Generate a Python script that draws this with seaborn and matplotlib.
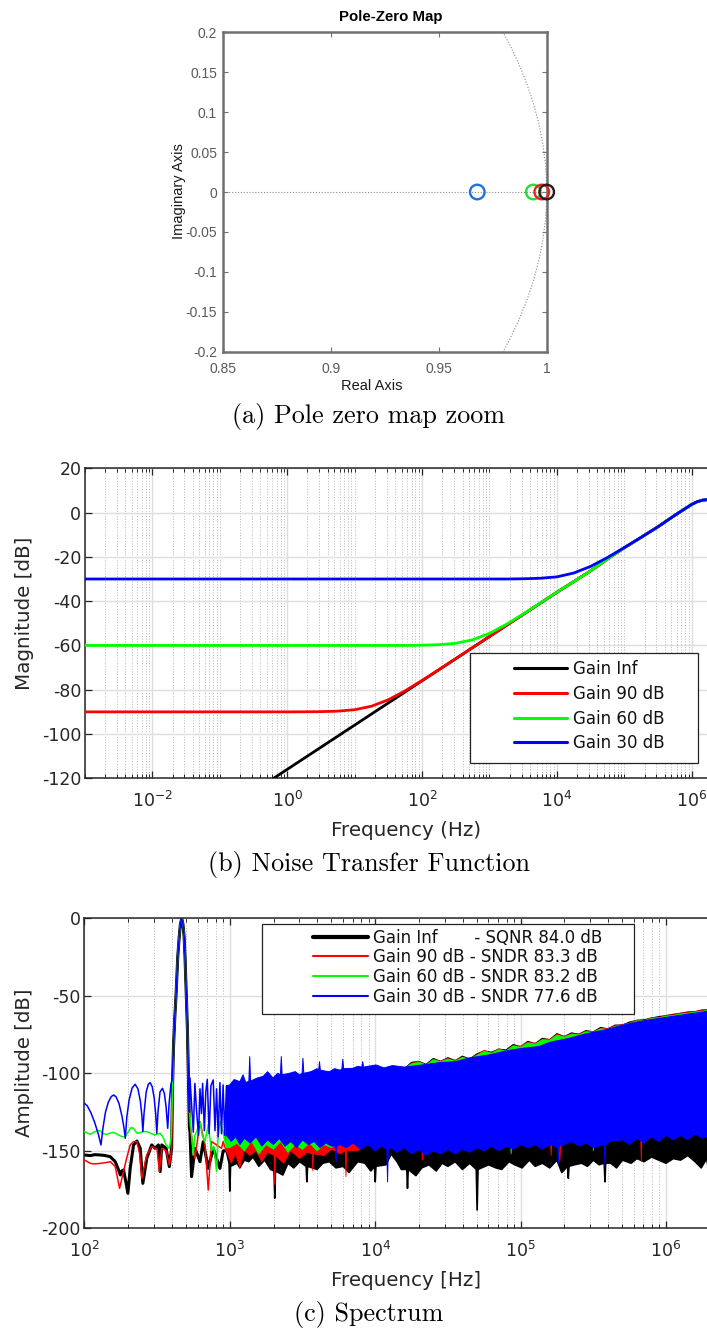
import numpy as np
import pandas as pd
import matplotlib
matplotlib.use("Agg")
import matplotlib.pyplot as plt
import seaborn as sns
from matplotlib.lines import Line2D
from matplotlib.patches import Rectangle, Circle
from matplotlib.ticker import FixedLocator, FixedFormatter, NullFormatter

# ------------------------------------------------------------------ data
# (a) zeros of the noise transfer function close to z = 1
PZ_NAMES = ["Gain 30 dB", "Gain 60 dB", "Gain 90 dB", "Gain Inf"]
PZ_REAL = [0.9678, 0.9938, 0.9977, 1.0]
PZ_IMAG = [0.0, 0.0, 0.0, 0.0]
PZ_COLORS = ["#1f6fe5", "#22dd33", "#e8231e", "#2a1a1a"]
PZ_XTICKS = [0.85, 0.9, 0.95, 1.0]
PZ_XTICKLABELS = ["0.85", "0.9", "0.95", "1"]
PZ_YTICKS = [-0.2, -0.15, -0.1, -0.05, 0.0, 0.05, 0.1, 0.15, 0.2]
PZ_YTICKLABELS = ["-0.2", "-0.15", "-0.1", "-0.05", "0", "0.05", "0.1", "0.15", "0.2"]

# (b) NTF magnitude (log10 of frequency in Hz, magnitude in dB)
NTF_LABELS = ["Gain Inf", "Gain 90 dB", "Gain 60 dB", "Gain 30 dB"]
NTF_COLORS = ["#000000", "#ff0000", "#00ff00", "#0000ff"]
NTF_LOGF = [-3, -2, -1, -0.5, -0.21, 0, 0.25, 0.5, 0.75, 1, 1.25, 1.5, 1.75,
            2, 2.25, 2.5, 2.75, 3, 3.25, 3.5, 3.75, 4, 4.25, 4.5, 4.75,
            5, 5.25, 5.5, 5.75, 6, 6.08, 6.16, 6.24, 6.33]
NTF_INF = [-176, -156, -136, -126, -120.2, -116, -111, -106, -101, -96, -91, -86, -81,
           -76, -71, -66, -61, -56, -51, -46, -41, -36, -31.2, -26.3, -21.0,
           -15.9, -11.2, -6.4, -1.2, 3.7, 4.9, 5.6, 5.9, 6.0]
NTF_90 = [-90, -90, -90, -90, -90, -90, -89.97, -89.9, -89.67, -89.03, -87.46, -84.55, -80.49,
          -75.83, -70.95, -65.98, -61, -56, -51, -46, -41, -36, -31.2, -26.3, -21.0,
          -15.9, -11.2, -6.4, -1.2, 3.7, 4.9, 5.6, 5.9, 6.0]
NTF_60 = [-60, -60, -60, -60, -60, -60, -60, -60, -60, -60, -60, -60, -60,
          -59.89, -59.67, -59.03, -57.46, -54.55, -50.49, -45.83, -40.95, -35.98, -31.2, -26.3, -21.0,
          -15.9, -11.2, -6.4, -1.2, 3.7, 4.9, 5.6, 5.9, 6.0]
NTF_30 = [-30, -30, -30, -30, -30, -30, -30, -30, -30, -30, -30, -30, -30,
          -30, -30, -30, -30, -30, -30, -29.89, -29.67, -29.03, -27.3, -24.3, -20.3,
          -15.8, -11.15, -6.4, -1.2, 3.7, 4.9, 5.6, 5.9, 6.0]
NTF_YTICKS = [-120, -100, -80, -60, -40, -20, 0, 20]
NTF_XDECADES = [-2, 0, 2, 4, 6]

# (c) output spectrum: (log10 f, dB) points
SPEC_LABELS = ["Gain Inf", "Gain 90 dB", "Gain 60 dB", "Gain 30 dB"]
SPEC_METRIC = ["SQNR", "SNDR", "SNDR", "SNDR"]
SPEC_VALUES = [84.0, 83.3, 83.2, 77.6]
SPEC_COLORS = ["#000000", "#ff0000", "#00ff00", "#0000ff"]
SPEC_YTICKS = [-200, -150, -100, -50, 0]
SPEC_XDECADES = [2, 3, 4, 5, 6]

# signal tone main lobe (shared by all four runs)
TONE = [(2.612, -85), (2.621, -65), (2.630, -50), (2.642, -25), (2.652, -12), (2.660, -4),
        (2.669, 0), (2.678, -4), (2.686, -12), (2.692, -25), (2.701, -50), (2.708, -70),
        (2.715, -100)]

BLACK_PRE = [(2.000, -152.7), (2.041, -153.1), (2.070, -152.5), (2.110, -152.7), (2.140, -153.0),
             (2.178, -153.8), (2.212, -157.0), (2.242, -164.0), (2.247, -165.6), (2.258, -163.0),
             (2.269, -162.4), (2.285, -170.0), (2.299, -177.4), (2.315, -161.3), (2.338, -146.2),
             (2.361, -143.7), (2.384, -148.4), (2.402, -171.0), (2.429, -154.8), (2.463, -146.2),
             (2.486, -148.4), (2.509, -146.2), (2.521, -163.4), (2.532, -146.2), (2.562, -148.4),
             (2.584, -160.2), (2.600, -148.4), (2.606, -110)]
BLACK_POST = [(2.722, -135), (2.726, -137.6), (2.737, -166.7), (2.760, -148.4), (2.795, -157.0),
              (2.817, -144.1), (2.852, -161.3), (2.886, -148.4), (2.932, -161.3), (2.955, -150),
              (2.975, -150)]
RED_PRE = [(2.000, -155.9), (2.041, -158.1), (2.070, -158.5), (2.110, -158.1), (2.155, -157.5),
           (2.178, -157.0), (2.212, -160.2), (2.242, -174.2), (2.269, -163.4), (2.290, -155.0),
           (2.315, -146.2), (2.338, -144.1), (2.361, -144.1), (2.380, -152.0), (2.395, -167.7),
           (2.429, -152.7), (2.463, -147.3), (2.500, -149.0), (2.516, -163.4), (2.532, -148.4),
           (2.562, -150.0), (2.584, -159.1), (2.600, -149.0), (2.606, -110)]
RED_POST = [(2.722, -125), (2.726, -133.3), (2.760, -155.0), (2.795, -131.2), (2.829, -146.2),
            (2.852, -175.3), (2.874, -144.1), (2.909, -146.2), (2.943, -148.4), (2.954, -144.1),
            (2.975, -150)]
GREEN_PRE = [(2.000, -137.6), (2.020, -138.5), (2.041, -139.4), (2.064, -138.0), (2.090, -137.0),
             (2.110, -137.2), (2.130, -139.0), (2.155, -139.4), (2.178, -138.5), (2.201, -138.1),
             (2.230, -139.5), (2.258, -140.9), (2.281, -140.9), (2.300, -138.0), (2.320, -135.0),
             (2.338, -135.5), (2.361, -138.5), (2.372, -138.7), (2.400, -137.6), (2.429, -137.6),
             (2.450, -138.5), (2.486, -139.8), (2.509, -139.0), (2.521, -138.7), (2.540, -141.0),
             (2.562, -146.2), (2.584, -148.4), (2.597, -141.0), (2.606, -110)]
GREEN_POST = [(2.722, -125), (2.726, -126.9), (2.737, -140.0), (2.749, -152.7), (2.760, -140.0),
              (2.772, -137.6), (2.795, -131.2), (2.810, -140.0), (2.829, -144.1), (2.852, -133.3),
              (2.874, -150.0), (2.890, -147.0), (2.909, -163.4), (2.920, -140.0), (2.932, -131.2),
              (2.954, -137.6), (2.975, -148.0)]
BLUE_PRE = [(2.000, -119.4), (2.020, -121.0), (2.045, -125.5), (2.070, -131.5), (2.095, -139.0),
            (2.114, -146.2), (2.128, -135.0), (2.145, -125.0), (2.165, -118.5), (2.185, -115.0),
            (2.201, -114.0), (2.218, -115.2), (2.238, -119.5), (2.258, -127.5), (2.272, -135.0),
            (2.281, -141.9), (2.292, -128.0), (2.308, -117.0), (2.328, -109.5), (2.349, -107.1),
            (2.368, -110.0), (2.385, -118.0), (2.396, -128.0), (2.402, -137.6), (2.410, -126.0),
            (2.425, -112.0), (2.440, -107.0), (2.452, -106.0), (2.466, -108.5), (2.480, -116.0),
            (2.491, -127.0), (2.498, -138.7), (2.506, -125.0), (2.520, -112.0), (2.537, -109.7),
            (2.550, -113.0), (2.562, -122.0), (2.573, -135.5), (2.582, -120.0), (2.595, -107.0),
            (2.603, -104.3)]
BLUE_POST = [(2.722, -125), (2.726, -103), (2.737, -120), (2.749, -138), (2.760, -106.5),
             (2.772, -125), (2.785, -140), (2.795, -110), (2.805, -126), (2.813, -106.5),
             (2.825, -137), (2.835, -112), (2.845, -104), (2.858, -139), (2.870, -108),
             (2.886, -104.3), (2.898, -137), (2.909, -110), (2.920, -141), (2.932, -106),
             (2.943, -139), (2.954, -107.5), (2.965, -140), (2.977, -108)]

# dense noise region: upper and lower envelopes of each run
BLACK_HI = [(2.975, -128), (3.1, -125), (3.3, -121), (3.5, -117), (3.7, -112), (3.9, -105),
            (4.0, -101), (4.1, -97.9), (4.15, -96.5), (4.2, -97.4), (4.25, -93.1), (4.3, -92.5),
            (4.35, -94.4), (4.4, -90.6), (4.45, -92.5), (4.5, -90.1), (4.55, -92.0), (4.6, -89.1),
            (4.65, -91.0), (4.7, -87.6), (4.75, -85.7), (4.8, -86.6), (4.85, -84.6), (4.9, -85.1),
            (4.95, -81.6), (5.0, -83.0), (5.05, -79.6), (5.1, -81.0), (5.15, -77.6), (5.2, -78.5),
            (5.25, -74.6), (5.3, -76.5), (5.35, -74.1), (5.4, -75.0), (5.45, -72.6), (5.5, -73.4),
            (5.55, -70.6), (5.6, -71.5), (5.65, -69.1), (5.7, -69.0), (5.75, -67.1), (5.8, -66.0),
            (5.85, -65.6), (5.9, -64.5), (5.95, -63.6), (6.0, -63.0), (6.05, -62.1), (6.1, -61.5),
            (6.15, -60.6), (6.2, -60.4), (6.25, -59.3), (6.3, -59.2), (6.33, -58.6)]
BLACK_LO = [(2.975, -150), (2.995, -158), (3.000, -176), (3.005, -160), (3.050, -158), (3.069, -161),
            (3.100, -156), (3.130, -157), (3.160, -154), (3.200, -160), (3.240, -156), (3.280, -162),
            (3.304, -163), (3.309, -180.6), (3.314, -163), (3.365, -165.6), (3.400, -158),
            (3.440, -161), (3.480, -157), (3.525, -160), (3.530, -170), (3.535, -160), (3.600, -162),
            (3.640, -158), (3.685, -157), (3.730, -161), (3.780, -160), (3.820, -164), (3.845, -161),
            (3.880, -157), (3.930, -158), (3.970, -163), (3.995, -160), (4.000, -170), (4.005, -160),
            (4.074, -159), (4.110, -152), (4.150, -157), (4.180, -162), (4.217, -162), (4.222, -174.2),
            (4.227, -162), (4.280, -166), (4.320, -161), (4.370, -159), (4.420, -163), (4.460, -158),
            (4.500, -160), (4.550, -157), (4.600, -162), (4.650, -158), (4.695, -162), (4.701, -188.2),
            (4.707, -162), (4.780, -159), (4.830, -161), (4.870, -162), (4.920, -157), (4.960, -159),
            (5.010, -161), (5.060, -156), (5.100, -160), (5.150, -158), (5.200, -161), (5.250, -156),
            (5.283, -164), (5.323, -160), (5.328, -167.7), (5.333, -160), (5.370, -159), (5.420, -158),
            (5.460, -160), (5.500, -156), (5.540, -159), (5.575, -158), (5.580, -170), (5.585, -158),
            (5.620, -158), (5.660, -161), (5.700, -156), (5.760, -158), (5.800, -155), (5.850, -157),
            (5.900, -154), (5.950, -156), (6.000, -158), (6.050, -155), (6.100, -156), (6.150, -153),
            (6.200, -157), (6.242, -161), (6.280, -155), (6.300, -166.7), (6.330, -158)]
RED_HI = [(2.975, -126), (3.1, -124), (3.3, -120), (3.5, -116), (3.7, -111), (3.9, -104.5),
          (4.0, -101), (4.1, -97.5), (4.15, -96.9), (4.2, -97.0), (4.25, -93.6), (4.3, -92.2),
          (4.35, -94.7), (4.4, -90.9), (4.45, -92.1), (4.5, -90.5), (4.55, -91.6), (4.6, -89.5),
          (4.65, -90.6), (4.7, -88.0), (4.75, -85.2), (4.8, -87.0), (4.85, -84.3), (4.9, -85.5),
          (4.95, -82.0), (5.0, -82.6), (5.05, -80.0), (5.1, -80.7), (5.15, -78.0), (5.2, -78.1),
          (5.25, -75.0), (5.3, -76.1), (5.35, -74.5), (5.4, -74.6), (5.45, -72.9), (5.5, -73.1),
          (5.55, -71.0), (5.6, -71.1), (5.65, -69.4), (5.7, -68.6), (5.75, -67.5), (5.8, -65.6),
          (5.85, -65.9), (5.9, -64.1), (5.95, -64.0), (6.0, -62.6), (6.05, -62.4), (6.1, -61.1),
          (6.15, -60.9), (6.2, -60.1), (6.25, -59.6), (6.3, -58.9), (6.33, -58.9)]
RED_LO = [(2.975, -150), (3.010, -158), (3.040, -152), (3.069, -161), (3.100, -150), (3.140, -153),
          (3.180, -150), (3.220, -157), (3.260, -151), (3.304, -153), (3.309, -172), (3.314, -153),
          (3.370, -158), (3.420, -150), (3.480, -155), (3.530, -151), (3.566, -152), (3.571, -163),
          (3.576, -152), (3.650, -153), (3.700, -149), (3.760, -152), (3.794, -150), (3.799, -166.7),
          (3.804, -150), (3.880, -150), (3.940, -146), (4.000, -147), (4.050, -144), (4.120, -145),
          (4.200, -144), (4.300, -145), (4.320, -147), (4.325, -156), (4.330, -147), (4.400, -144),
          (4.500, -143), (4.600, -145), (4.700, -143), (4.800, -143), (4.900, -142), (5.000, -142),
          (5.100, -142), (5.205, -143), (5.210, -153), (5.215, -143), (5.265, -148), (5.270, -157),
          (5.275, -148), (5.300, -141), (5.400, -140), (5.500, -141), (5.600, -139), (5.700, -138),
          (5.825, -139), (5.830, -157), (5.835, -139), (5.900, -136), (6.000, -135), (6.100, -135),
          (6.200, -134), (6.300, -134), (6.330, -134)]
GREEN_HI = [(2.975, -122), (3.1, -120), (3.3, -116), (3.5, -112), (3.7, -107), (3.9, -102),
            (4.0, -99.5), (4.1, -98.2), (4.15, -96.9), (4.2, -97.6), (4.25, -93.8), (4.3, -92.9),
            (4.35, -94.6), (4.4, -91.3), (4.45, -92.6), (4.5, -90.8), (4.55, -92.3), (4.6, -89.7),
            (4.65, -91.2), (4.7, -88.3), (4.75, -85.8), (4.8, -87.1), (4.85, -84.8), (4.9, -85.6),
            (4.95, -82.3), (5.0, -83.2), (5.05, -80.3), (5.1, -81.2), (5.15, -78.3), (5.2, -78.7),
            (5.25, -75.3), (5.3, -76.7), (5.35, -74.8), (5.4, -75.2), (5.45, -73.2), (5.5, -73.6),
            (5.55, -71.3), (5.6, -71.7), (5.65, -69.7), (5.7, -69.1), (5.75, -67.8), (5.8, -66.2),
            (5.85, -66.1), (5.9, -64.7), (5.95, -64.2), (6.0, -63.2), (6.05, -62.7), (6.1, -61.8),
            (6.15, -61.2), (6.2, -60.6), (6.25, -59.9), (6.3, -59.4), (6.33, -59.1)]
GREEN_LO = [(2.975, -148), (3.000, -148), (3.050, -145), (3.100, -150), (3.150, -144), (3.200, -152),
            (3.250, -146), (3.300, -149), (3.350, -144), (3.400, -151), (3.450, -146), (3.500, -149),
            (3.550, -145), (3.600, -150), (3.650, -146), (3.700, -148), (3.750, -144), (3.800, -143),
            (3.900, -142), (4.000, -143), (4.100, -142), (4.200, -141), (4.400, -141), (4.600, -140),
            (4.800, -140), (4.930, -141), (4.935, -152), (4.940, -141), (5.000, -139), (5.200, -138),
            (5.400, -137), (5.495, -138), (5.500, -150), (5.505, -138), (5.600, -136), (5.800, -135),
            (6.000, -134), (6.200, -133), (6.330, -133)]
BLUE_HI = [(2.977, -108), (3.000, -107.5), (3.030, -104), (3.069, -105.4), (3.091, -101), (3.110, -106),
           (3.131, -105), (3.137, -89.2), (3.143, -105), (3.190, -103), (3.229, -102), (3.260, -99),
           (3.297, -103), (3.330, -100), (3.348, -101), (3.354, -89.2), (3.360, -101), (3.410, -100),
           (3.450, -98.9), (3.480, -101), (3.497, -100), (3.503, -90.3), (3.509, -100), (3.560, -98.9),
           (3.600, -97), (3.611, -98), (3.617, -92.5), (3.623, -98), (3.685, -99), (3.720, -97),
           (3.760, -98), (3.771, -97), (3.777, -91), (3.783, -97), (3.845, -96.8), (3.880, -95.5),
           (3.908, -96), (3.914, -92.5), (3.920, -96), (4.005, -94.6), (4.060, -96.5), (4.119, -95),
           (4.200, -96), (4.324, -94.6), (4.450, -93), (4.553, -92.5), (4.650, -90), (4.781, -88.2),
           (4.900, -85.5), (5.009, -83.9), (5.123, -82.8), (5.200, -80), (5.329, -77.5), (5.450, -74.5),
           (5.580, -72), (5.700, -69), (5.808, -66.7), (5.920, -65), (6.036, -63.4), (6.150, -61.8),
           (6.242, -60.6), (6.330, -59.5)]
BLUE_LO = [(2.977, -140), (3.010, -144), (3.040, -141), (3.070, -146), (3.100, -142), (3.140, -145),
           (3.180, -141), (3.220, -147), (3.260, -143), (3.300, -146), (3.340, -142), (3.380, -147),
           (3.420, -144), (3.460, -148), (3.500, -143), (3.540, -146), (3.580, -144), (3.620, -148),
           (3.660, -145), (3.700, -147), (3.725, -147), (3.731, -157), (3.737, -147), (3.760, -146),
           (3.800, -148), (3.850, -145), (3.900, -149), (3.950, -146), (4.000, -150), (4.040, -147),
           (4.080, -149), (4.085, -170), (4.090, -149), (4.110, -148), (4.150, -151), (4.200, -148),
           (4.250, -152), (4.300, -149), (4.350, -153), (4.400, -150), (4.450, -152), (4.500, -149),
           (4.550, -152), (4.600, -149), (4.650, -151), (4.700, -148), (4.750, -150), (4.800, -147),
           (4.850, -150), (4.900, -147), (4.950, -149), (5.000, -146), (5.050, -148), (5.100, -146),
           (5.150, -149), (5.200, -146), (5.255, -148), (5.260, -158), (5.265, -147), (5.300, -146),
           (5.350, -144), (5.400, -147), (5.450, -145), (5.500, -148), (5.575, -146), (5.580, -159),
           (5.585, -146), (5.620, -144), (5.700, -143), (5.750, -146), (5.800, -142), (5.850, -145),
           (5.900, -141), (5.950, -144), (6.000, -140), (6.050, -143), (6.100, -140), (6.150, -143),
           (6.200, -139), (6.250, -142), (6.300, -140), (6.330, -141)]

# ------------------------------------------------------------------ style
sns.set_theme(style="white")
plt.rcParams["font.family"] = ["DejaVu Sans"]
plt.rcParams["axes.unicode_minus"] = False
plt.rcParams["mathtext.fontset"] = "dejavusans"

W, H = 707, 1331
fig = plt.figure(figsize=(W / 100, H / 100), dpi=100)
fig.patch.set_facecolor("white")


def fbox(x0, y0, x1, y1):
    """Axes rectangle from pixel corners (top-left origin)."""
    return [x0 / W, 1 - y1 / H, (x1 - x0) / W, (y1 - y0) / H]


def fx(x):
    return x / W


def fy(y):
    return 1 - y / H


TXT = "#262626"
CAPTION = dict(family="cmr10", size=18.8, color="black", ha="center", va="center")

# ------------------------------------------------------------------ (a) pole-zero map
axA = fig.add_axes(fbox(223.3, 32.3, 546.7, 351.7))
axA.set_facecolor("white")
grid_kw = dict(color="#8a8a8a", lw=0.8, ls=(0, (1, 1.6)), zorder=1)
axA.axhline(0, **grid_kw)
axA.add_patch(Circle((0, 0), 1.0, fill=False, **grid_kw))
pz = pd.DataFrame({"re": PZ_REAL, "im": PZ_IMAG, "name": PZ_NAMES})
for (_, row), col in zip(pz.iterrows(), PZ_COLORS):
    sns.scatterplot(x=[row.re], y=[row.im], ax=axA, marker="o", s=110,
                    facecolors="none", edgecolor=col, linewidth=1.7,
                    zorder=5, clip_on=False, legend=False)
axA.set_xlim(0.85, 1.0)
axA.set_ylim(-0.2, 0.2)
axA.set_xticks(PZ_XTICKS)
axA.set_xticklabels(PZ_XTICKLABELS)
axA.set_yticks(PZ_YTICKS)
axA.set_yticklabels(PZ_YTICKLABELS)
axA.set_xlabel("")
axA.set_ylabel("")
for s in axA.spines.values():
    s.set_color("#707070")
    s.set_linewidth(1.8)
    s.set_zorder(4)
axA.tick_params(which="both", direction="in", length=3.5, width=0.8, color="#707070",
                top=True, right=True, bottom=True, left=True, labelsize=10,
                labelcolor="#5a5a5a")
axA.tick_params(axis="x", pad=7.5)
axA.tick_params(axis="y", pad=4.5)
for lab in axA.get_xticklabels() + axA.get_yticklabels():
    lab.set_family("Liberation Sans")
fig.text(fx(390.8), fy(17.3), "Pole-Zero Map", family="Liberation Sans", weight="bold",
         size=10.8, color="black", ha="center", va="center")
fig.text(fx(179), fy(191), "Imaginary Axis", family="Liberation Sans", size=10.5,
         color="#1a1a1a", rotation=90, ha="center", va="center")
fig.text(fx(372), fy(385.7), "Real Axis", family="Liberation Sans", size=10.5,
         color="#1a1a1a", ha="center", va="center")
fig.text(fx(369), fy(416.7), "(a) Pole zero map zoom", **CAPTION)


def style_log_axes(ax, decades, lo_dec, hi_dec):
    majors = [10.0 ** d for d in decades]
    minors = [m * 10.0 ** k for k in range(lo_dec, hi_dec + 1) for m in range(1, 10)]
    minors = [v for v in minors if all(abs(v / M - 1) > 1e-9 for M in majors)]
    ax.xaxis.set_major_locator(FixedLocator(majors))
    ax.xaxis.set_major_formatter(FixedFormatter([r"$10^{%d}$" % d for d in decades]))
    ax.xaxis.set_minor_locator(FixedLocator(minors))
    ax.xaxis.set_minor_formatter(NullFormatter())
    ax.grid(True, which="major", color="#dedede", lw=1.0, ls="-", zorder=0)
    ax.grid(True, which="minor", axis="x", color="#b5b5b5", lw=0.7, ls=(0, (1, 1.8)), zorder=0)
    ax.set_axisbelow(True)
    for s in ax.spines.values():
        s.set_color(TXT)
        s.set_linewidth(1.1)
    ax.tick_params(which="both", direction="in", top=True, right=True, bottom=True, left=True,
                   color=TXT, labelcolor=TXT, labelsize=12.5)
    ax.tick_params(which="major", length=5, width=0.9)
    ax.tick_params(which="minor", length=2.6, width=0.7)
    ax.tick_params(axis="x", pad=9)
    ax.tick_params(axis="y", pad=2.5)
    ax.set_xlabel("")
    ax.set_ylabel("")


# ------------------------------------------------------------------ (b) NTF
axB = fig.add_axes(fbox(84.8, 468.3, 714.0, 778.3))
ntf = pd.concat([
    pd.DataFrame({"freq": np.power(10.0, NTF_LOGF), "mag": vals, "run": name})
    for name, vals in zip(NTF_LABELS, [NTF_INF, NTF_90, NTF_60, NTF_30])
])
sns.lineplot(data=ntf, x="freq", y="mag", hue="run", hue_order=NTF_LABELS,
             palette=NTF_COLORS, lw=2.0, ax=axB, legend=False, sort=False,
             estimator=None, zorder=3)
axB.set_xscale("log")
axB.set_xlim(1e-3, 10 ** 6.33)
axB.set_ylim(-120, 20)
axB.set_yticks(NTF_YTICKS)
axB.set_yticklabels([str(v) for v in NTF_YTICKS])
style_log_axes(axB, NTF_XDECADES, -3, 6)

handlesB = [Line2D([], [], color=c, lw=2.2) for c in NTF_COLORS]
legB = axB.legend(handlesB, NTF_LABELS, loc="upper left",
                  bbox_to_anchor=(fx(514), fy(660.3)), bbox_transform=fig.transFigure,
                  frameon=False, fontsize=12, handlelength=3.18, handletextpad=0.34,
                  labelspacing=0.4, borderpad=0, borderaxespad=0)
legB.set_zorder(12)
for t in legB.get_texts():
    t.set_color("#111111")
axB.add_artist(Rectangle((fx(470), fy(763.3)), (698 - 470) / W, (763.3 - 653.3) / H,
                         transform=fig.transFigure, facecolor="white", edgecolor="#222222",
                         lw=0.9, zorder=11, clip_on=False))
fig.text(fx(25), fy(613), "Magnitude [dB]", size=14.3, color=TXT, rotation=90,
         ha="center", va="center")
fig.text(fx(406), fy(830), "Frequency (Hz)", size=14.3, color=TXT, ha="center", va="center")
fig.text(fx(369), fy(865), "(b) Noise Transfer Function", **CAPTION)

# ------------------------------------------------------------------ (c) spectrum
axC = fig.add_axes(fbox(84.4, 918.3, 714.0, 1228.3))


def unzip(points):
    return np.power(10.0, [p[0] for p in points]), np.array([p[1] for p in points])


def spectrum_run(ax, pre, post, hi, lo, color, lw, edge, z):
    fx_, fy_ = unzip(pre + TONE + post)
    sns.lineplot(x=fx_, y=fy_, color=color, lw=lw, ax=ax, sort=False, estimator=None,
                 legend=False, zorder=z)
    hx, hy = unzip(hi)
    lx, ly = unzip(lo)
    ax.fill(np.concatenate([hx, lx[::-1]]), np.concatenate([hy, ly[::-1]]),
            facecolor=color, edgecolor=color, lw=edge, joinstyle="round", zorder=z)


spectrum_run(axC, BLACK_PRE, BLACK_POST, BLACK_HI, BLACK_LO, SPEC_COLORS[0], 2.2, 1.2, 2)
spectrum_run(axC, RED_PRE, RED_POST, RED_HI, RED_LO, SPEC_COLORS[1], 1.1, 0.6, 3)
spectrum_run(axC, GREEN_PRE, GREEN_POST, GREEN_HI, GREEN_LO, SPEC_COLORS[2], 1.1, 0.6, 4)
spectrum_run(axC, BLUE_PRE, BLUE_POST, BLUE_HI, BLUE_LO, SPEC_COLORS[3], 1.1, 0.7, 5)

axC.set_xscale("log")
axC.set_xlim(1e2, 10 ** 6.33)
axC.set_ylim(-200, 0)
axC.set_yticks(SPEC_YTICKS)
axC.set_yticklabels([str(v) for v in SPEC_YTICKS])
style_log_axes(axC, SPEC_XDECADES, 2, 6)

spec_labels = []
for name, metric, val in zip(SPEC_LABELS, SPEC_METRIC, SPEC_VALUES):
    pad = " " * 7 if name == "Gain Inf" else " "
    spec_labels.append(f"{name}{pad}- {metric} {val:.1f} dB")
handlesC = [Line2D([], [], color=c, lw=(3.0 if i == 0 else 1.5)) for i, c in enumerate(SPEC_COLORS)]
legC = axC.legend(handlesC, spec_labels, loc="upper left",
                  bbox_to_anchor=(fx(313), fy(928.6)), bbox_transform=fig.transFigure,
                  frameon=False, fontsize=12, handlelength=3.27, handletextpad=0.33,
                  labelspacing=0.1, borderpad=0, borderaxespad=0)
legC.set_zorder(12)
for t in legC.get_texts():
    t.set_color("#111111")
axC.add_artist(Rectangle((fx(261.5), fy(1014.3)), (633.5 - 261.5) / W, (1014.3 - 924) / H,
                         transform=fig.transFigure, facecolor="white", edgecolor="#222222",
                         lw=0.9, zorder=11, clip_on=False))
fig.text(fx(25), fy(1062.5), "Amplitude [dB]", size=14.2, color=TXT, rotation=90,
         ha="center", va="center")
fig.text(fx(406), fy(1280), "Frequency [Hz]", size=14.3, color=TXT, ha="center", va="center")
fig.text(fx(369), fy(1315), "(c) Spectrum", **CAPTION)

fig.savefig("out.png", dpi=100, facecolor="white")
